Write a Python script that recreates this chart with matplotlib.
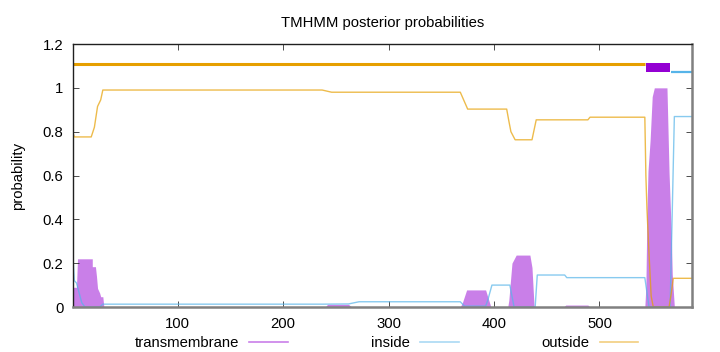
import matplotlib
matplotlib.use("Agg")
import matplotlib.pyplot as plt
from matplotlib.lines import Line2D
from matplotlib.ticker import FuncFormatter

plt.rcParams["font.family"] = ["Liberation Sans", "DejaVu Sans"]

# posterior probabilities (residue, value)
tm_pos = [1, 1, 4, 5, 19, 19, 22, 23, 24, 26, 27, 29, 30,
          240, 242, 262, 265,
          368, 370, 374, 392, 397,
          413, 414, 417, 421, 434, 436, 438,
          466, 468, 489, 491,
          543, 544, 545, 546, 548, 550, 552, 564, 566, 568, 569, 571, 588]
tm_val = [0.0, 0.09, 0.09, 0.22, 0.22, 0.184, 0.184, 0.14, 0.085, 0.064, 0.047, 0.047, 0.0,
          0.0, 0.012, 0.012, 0.0,
          0.0, 0.02, 0.078, 0.078, 0.0,
          0.0, 0.03, 0.2, 0.237, 0.237, 0.18, 0.0,
          0.0, 0.009, 0.009, 0.0,
          0.0, 0.093, 0.43, 0.62, 0.76, 0.96, 1.0, 1.0, 0.61, 0.35, 0.15, 0.0, 0.0]

inside_pos = [1, 2, 4, 9, 12, 26, 29, 238, 262, 272, 368, 372, 392, 394, 398,
              415, 419, 439, 441, 467, 469, 543, 547, 567, 571, 588]
inside_val = [0.2, 0.12, 0.11, 0.02, 0.0, 0.0, 0.013, 0.013, 0.014, 0.024, 0.024, 0.004, 0.004, 0.03, 0.1,
              0.1, 0.0, 0.0, 0.146, 0.146, 0.134, 0.134, 0.0, 0.0, 0.869, 0.869]

outside_pos = [1, 2, 18, 21, 24, 27, 29, 237, 246, 368, 375, 412, 414, 416, 420,
               436, 440, 489, 491, 543, 544, 545, 547, 549, 551, 566, 568, 570, 588]
outside_val = [0.79, 0.776, 0.776, 0.82, 0.915, 0.945, 0.99, 0.99, 0.98, 0.98, 0.903, 0.903, 0.85, 0.8, 0.763,
               0.763, 0.854, 0.854, 0.866, 0.866, 0.6, 0.45, 0.24, 0.05, 0.0, 0.0, 0.06, 0.131, 0.131]

# predicted topology segments
topo_start = [1, 544, 568]
topo_end = [543, 567, 588]
topo_kind = ["outside", "TM", "inside"]

C_TM = "#9400D3"
C_IN = "#56B4E9"
C_OUT = "#E69F00"
FS = 10.7

fig = plt.figure(figsize=(7.2, 3.52), dpi=100)
ax = fig.add_axes([0.1018, 0.1278, 0.8597, 0.7472])

ax.fill_between(tm_pos, tm_val, 0, color=C_TM, alpha=0.5, lw=0)
ax.plot(inside_pos, inside_val, color=C_IN, lw=1, alpha=0.7)
ax.plot(outside_pos, outside_val, color=C_OUT, lw=1, alpha=0.7)

for s, e, k in zip(topo_start, topo_end, topo_kind):
    if k == "outside":
        ax.plot([s, e], [1.11, 1.11], color=C_OUT, lw=2.2, solid_capstyle="butt")
    elif k == "inside":
        ax.plot([s, e], [1.071, 1.071], color=C_IN, lw=1.6, solid_capstyle="butt")
    else:
        ax.fill_between([s, e], 1.07, 1.115, color=C_TM, lw=0)

ax.set_xlim(1, 588)
ax.set_ylim(0, 1.2)
ax.set_xticks([100, 200, 300, 400, 500])
ax.set_yticks([0, 0.2, 0.4, 0.6, 0.8, 1.0, 1.2])
ax.yaxis.set_major_formatter(FuncFormatter(lambda v, p: f"{v:g}"))
ax.tick_params(direction="in", top=True, right=True, length=4, width=0.6,
               labelsize=FS, pad=7, color="#303030")

for side in ["top", "left"]:
    ax.spines[side].set_color("#202020")
    ax.spines[side].set_linewidth(1.0)
for side in ["bottom", "right"]:
    ax.spines[side].set_color("#808080")
    ax.spines[side].set_linewidth(1.8)

ax.set_title("TMHMM posterior probabilities", fontsize=FS, pad=12)
ax.set_ylabel("probability", fontsize=FS, labelpad=13)

handles = [
    Line2D([], [], color=C_TM, alpha=0.5, lw=1.2),
    Line2D([], [], color=C_IN, alpha=0.5, lw=1.2),
    Line2D([], [], color=C_OUT, alpha=0.5, lw=1.2),
]
fig.legend(handles, ["transmembrane", "inside", "outside"], loc="center",
           bbox_to_anchor=(0.537, 0.026), ncol=3, frameon=False, markerfirst=False,
           fontsize=FS, handlelength=2.6, handletextpad=0.67, columnspacing=5.6,
           borderpad=0, borderaxespad=0)

fig.savefig("out.png", dpi=100)
